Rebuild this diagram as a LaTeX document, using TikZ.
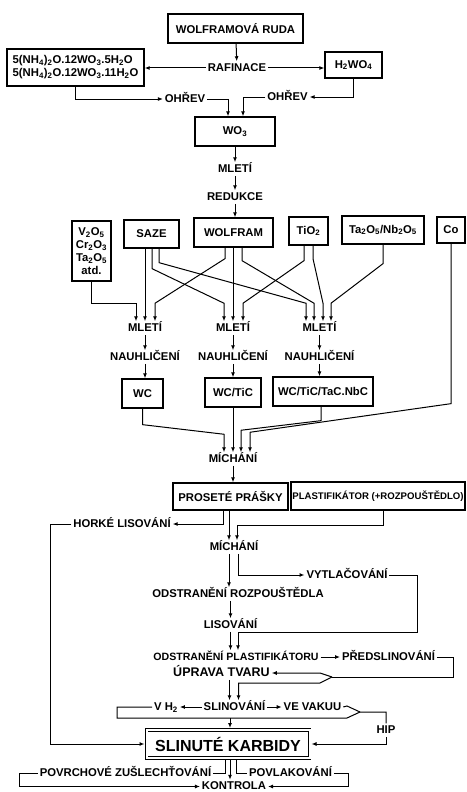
\documentclass[tikz,border=0pt]{standalone}
\usepackage{fontspec}
\setmainfont{Liberation Sans}
\usetikzlibrary{arrows.meta,calc}

\newcommand{\subs}[1]{\textsubscript{#1}}
\newcommand{\lblfont}{\fontsize{11.3}{13}\selectfont\bfseries}

\tikzset{
  lbl/.style={inner sep=1.5pt, text height=8pt, text depth=1.5pt, font=\lblfont},
  box/.style={draw, line width=1.3pt, inner sep=2pt, font=\lblfont},
}

\begin{document}
\begin{tikzpicture}[x=1pt, y=-1pt, line width=1pt, >={Latex[length=5pt,width=4pt]}]
\useasboundingbox (0,0) rectangle (466,792);
\clip (0,0) rectangle (466,792);

% ruda a rafinace
\node[box, minimum width=135pt, minimum height=29pt] (ruda) at (235.5,28.5) {WOLFRAMOVÁ RUDA};
\node[lbl] (raf) at (237,68) {RAFINACE};
\node[box, align=left, minimum width=137pt, minimum height=37pt] (amon) at (75.5,67.5)
  {5(NH\subs{4})\subs{2}O.12WO\subs{3}.5H\subs{2}O\\5(NH\subs{4})\subs{2}O.12WO\subs{3}.11H\subs{2}O};
\node[box, minimum width=57pt, minimum height=26pt] (h2wo) at (353.5,65) {H\subs{2}WO\subs{4}};
\node[lbl] (ohr1) at (185,99) {OHŘEV};
\node[lbl] (ohr2) at (287.5,97) {OHŘEV};
\node[box, minimum width=80pt, minimum height=29pt] (wo3) at (235,131.5) {WO\subs{3}};
\node[lbl] (mlet) at (235,169) {MLETÍ};
\node[lbl] (redu) at (235,197) {REDUKCE};

\draw[->] (ruda) -- (raf);
\draw[->] (raf.west) -- (raf.west -| amon.east);
\draw[->] (raf.east) -- (raf.east -| h2wo.west);
\draw[->] (amon.south) |- (ohr1.west);
\draw[->] (ohr1.east) -| ([xshift=-7]wo3.north);
\draw[->] (h2wo.south) |- (ohr2.east);
\draw[->] (ohr2.west) -| ([xshift=8]wo3.north);
\draw[->] (wo3) -- (mlet);
\draw[->] (mlet) -- (redu);

% suroviny
\node[box, align=center, minimum width=39pt, minimum height=60pt, inner sep=1pt] (vox) at (91.5,251)
  {V\subs{2}O\subs{5}\\Cr\subs{2}O\subs{3}\\Ta\subs{2}O\subs{5}\\atd.};
\node[box, minimum width=55pt, minimum height=28pt] (saze) at (151.5,234) {SAZE};
\node[box, minimum width=79pt, minimum height=29pt] (wolf) at (233.5,232.5) {WOLFRAM};
\node[box, minimum width=39pt, minimum height=28pt] (tio) at (308.5,231) {TiO\subs{2}};
\node[box, minimum width=82pt, minimum height=28pt] (tanb) at (383,230) {Ta\subs{2}O\subs{5}/Nb\subs{2}O\subs{5}};
\node[box, minimum width=28pt, minimum height=26pt] (co) at (451,230) {Co};

\draw[->] (redu) -- (redu |- wolf.north);

\node[lbl] (m1) at (145,328) {MLETÍ};
\node[lbl] (m2) at (233,328) {MLETÍ};
\node[lbl] (m3) at (319.5,328) {MLETÍ};
\node[lbl] (n1) at (145,357) {NAUHLIČENÍ};
\node[lbl] (n2) at (233,357) {NAUHLIČENÍ};
\node[lbl] (n3) at (319.5,357) {NAUHLIČENÍ};
\node[box, minimum width=41pt, minimum height=29pt] (wc) at (142.5,393.5) {WC};
\node[box, minimum width=56pt, minimum height=29pt] (wctic) at (233,392.5) {WC/TiC};
\node[box, minimum width=100pt, minimum height=29pt] (wcta) at (323,391.5) {WC/TiC/TaC.NbC};

\draw[->] (vox.south) |- ($(m1.north)+(-9,-18)$) -- ([xshift=-9]m1.north);
\draw[->] ([xshift=-6.5]saze.south) -- ([xshift=-6.5]saze.south |- m1.north);
\draw[->] ([xshift=0.5]saze.south) -- ++(0,20) -- ($(m2.north)+(-9,-18)$) -- ([xshift=-9]m2.north);
\draw[->] ([xshift=7.5]saze.south) -- ++(0,14) -- ($(m3.north)+(-13.5,-18)$) -- ([xshift=-13.5]m3.north);
\draw[->] ([xshift=-8.5]wolf.south) -- ++(0,11) -- ($(m1.north)+(10,-18)$) -- ([xshift=10]m1.north);
\draw[->] (wolf.south -| m2) -- (m2.north);
\draw[->] ([xshift=8.5]wolf.south) -- ++(0,13) -- ($(m3.north)+(-5.5,-18)$) -- ([xshift=-5.5]m3.north);
\draw[->] ([xshift=-4.5]tio.south) -- ++(0,15) -- ($(m2.north)+(10,-18)$) -- ([xshift=10]m2.north);
\draw[->] ([xshift=4.5]tio.south) -- ++(0,13) -- ($(m3.north)+(3.5,-18)$) -- ([xshift=3.5]m3.north);
\draw[->] (tanb.south) -- ++(0,19) -- ($(m3.north)+(11.5,-18)$) -- ([xshift=11.5]m3.north);

\foreach \g in {1,2,3}
  \draw[->] (m\g) -- (n\g);
\draw[->] (n1) -- (n1 |- wc.north);
\draw[->] (n2) -- (n2 |- wctic.north);
\draw[->] (n3) -- (n3 |- wcta.north);

% michani
\node[lbl] (mich) at (233,459) {MÍCHÁNÍ};
\draw[->] (wc.south) -- ++(0,16) -- ($(mich.north)+(-9,-18)$) -- ([xshift=-9]mich.north);
\draw[->] (wctic.south) -- (mich.north);
\draw[->] ([xshift=-2]wcta.south) -- ++(0,14) -- ($(mich.north)+(8,-22)$) -- ([xshift=8]mich.north);
\draw[->] (co.south) -- ++(0,160) -- ($(mich.north)+(17,-20)$) -- ([xshift=17]mich.north);

\node[box, minimum width=115pt, minimum height=27pt] (pros) at (230.5,496.5) {PROSETÉ PRÁŠKY};
\node[box, minimum width=174pt, minimum height=28pt, inner sep=1pt, font=\fontsize{9.6}{11}\selectfont\bfseries] (plast) at (378,496) {PLASTIFIKÁTOR (+ROZPOUŠTĚDLO)};
\draw[->] (mich) -- (mich |- pros.north);

% tvarovani
\node[lbl] (horke) at (122,524) {HORKÉ LISOVÁNÍ};
\node[lbl] (mich2) at (234,547) {MÍCHÁNÍ};
\node[lbl] (vytl) at (347,575) {VYTLAČOVÁNÍ};
\node[lbl] (odrozp) at (238,594) {ODSTRANĚNÍ ROZPOUŠTĚDLA};
\node[lbl] (lis) at (230.5,625) {LISOVÁNÍ};
\node[lbl, font=\fontsize{10.6}{12}\selectfont\bfseries] (odplast) at (236,657) {ODSTRANĚNÍ PLASTIFIKÁTORU};
\node[lbl] (predsl) at (388.5,657) {PŘEDSLINOVÁNÍ};
\node[lbl, font=\fontsize{12.5}{14}\selectfont\bfseries] (uprava) at (221.5,673) {ÚPRAVA TVARU};

\draw[->] ([xshift=-7.5]pros.south) |- (horke.east);
\draw[->] ([xshift=-1.5]pros.south) -- ([xshift=-1.5]pros.south |- mich2.north);
\draw[->] ([xshift=5]plast.south) -- ++(0,15) -| ([xshift=3]mich2.north);
\draw[->] ([xshift=-5]mich2.south) -- ([xshift=-5]mich2.south |- odrozp.north);
\draw[->] ([xshift=4]mich2.south) |- (vytl.west);
\coordinate (loop1) at (417,632);
\draw[->] (vytl.east) -| (loop1) -| ([xshift=2]odplast.north);
\draw[->] (odrozp.south -| lis) -- (lis.north);
\draw[->] (lis.south) -- (lis.south |- odplast.north);
\draw[->] (odplast.east) -- (predsl.west);

\coordinate (c1) at (453,677);
\coordinate (tip1) at (332,677);
\draw (predsl.east) -| (c1) -- (tip1);
\draw[->] (tip1) -- ++(-12,-4) -- (uprava.east);

% slinovani
\node[lbl] (vh2) at (166,707) {V H\subs{2}};
\node[lbl] (slin) at (234.5,707) {SLINOVÁNÍ};
\node[lbl] (vak) at (312.5,707) {VE VAKUU};
\node[lbl] (hip) at (386,730) {HIP};

\draw[->] (tip1) -- ++(-12,6) -| ([xshift=4]slin.north);
\draw[->] ([xshift=-5]slin.north |- uprava.south) -- ([xshift=-5]slin.north);
\draw[->] (slin.west) -- (vh2.east);
\draw[->] (slin.east) -- (vak.west);

\node[box, double, double distance=2pt, line width=0.9pt, outer sep=2pt, minimum width=163pt, minimum height=28pt,
  font=\fontsize{16}{18}\selectfont\bfseries] (sk) at (228,744) {SLINUTÉ KARBIDY};

\coordinate (tip2) at (360,712);
\coordinate (low) at (117,718);
\draw (vh2.west) -| (low) -- ($(tip2)+(-13,6)$) -- (tip2);
\draw (vak.east) -- ($(tip2)+(-13,-6)$) -- (tip2) -| (hip.north);
\draw[->] (hip.south) |- (sk.east);
\draw[->] ([xshift=2]sk.north |- low) -- ([xshift=2]sk.north);
\draw[->] (horke.west) -- ++(-21,0) |- (sk.west);

% dokoncovani
\node[lbl] (povrch) at (125.5,773) {POVRCHOVÉ ZUŠLECHŤOVÁNÍ};
\node[lbl] (povlak) at (290.5,773) {POVLAKOVÁNÍ};
\node[lbl] (kontr) at (234,786.5) {KONTROLA};

\draw ([xshift=-3]sk.south) |- (povrch.east);
\draw[->] ([xshift=2]sk.south) -- ([xshift=2]sk.south |- kontr.north);
\draw ([xshift=8]sk.south) |- (povlak.west);
\draw[->] (povrch.west) -- ++(-18,0) |- (kontr.west);
\draw[->] (povlak.east) -- ++(15,0) |- (kontr.east);

\end{tikzpicture}
\end{document}
